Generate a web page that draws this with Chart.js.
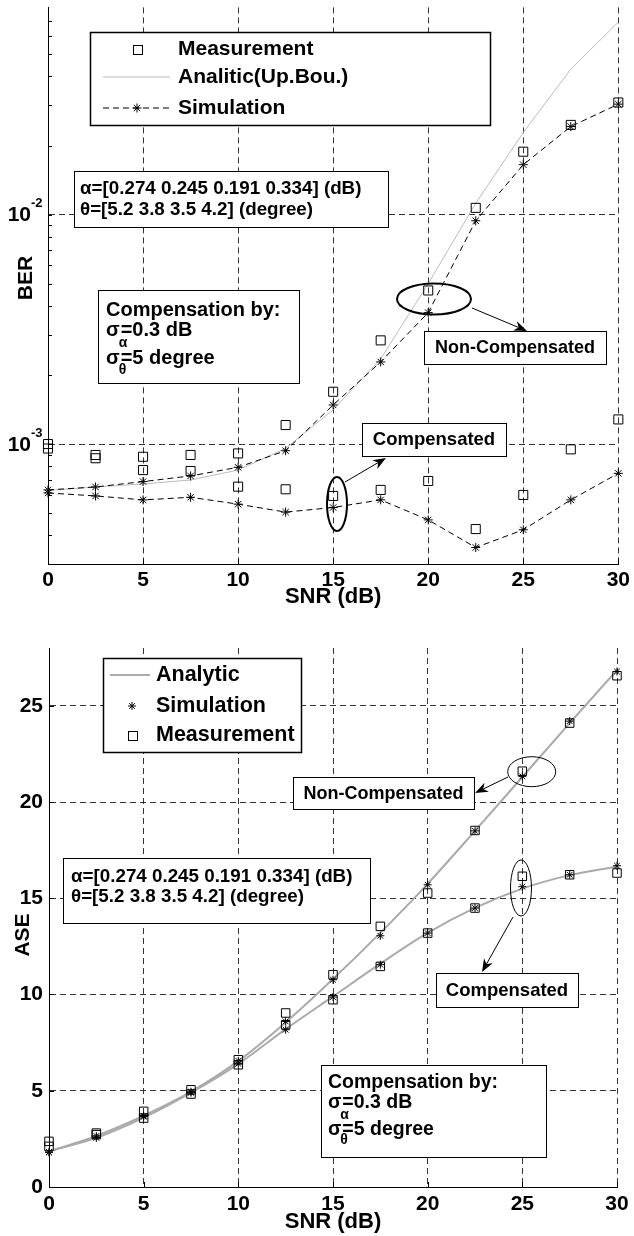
<!DOCTYPE html>
<html>
<head>
<meta charset="utf-8">
<script src="https://cdn.jsdelivr.net/npm/chart.js@4.4.0/dist/chart.umd.min.js"></script>
<style>
  body { margin: 0; background: #fff; }
  #top { position: absolute; left: 0; top: 0; }
  #bot { position: absolute; left: 0; top: 620px; }
</style>
</head>
<body>
<canvas id="top" width="634" height="620"></canvas>
<canvas id="bot" width="634" height="616"></canvas>
<script>
// SNR (dB) - same x values for both plots
const snr = [0, 2.5, 5, 7.5, 10, 12.5, 15, 17.5, 20, 22.5, 25, 27.5, 30];
const snrTicks = [0, 5, 10, 15, 20, 25, 30];

// BER plot (log scale)
const berMeasNonComp = [1.0e-3, 8.96e-4, 8.8e-4, 8.96e-4, 9.1e-4, 1.21e-3, 1.69e-3, 2.83e-3, 4.67e-3, 1.07e-2, 1.88e-2, 2.46e-2, 3.08e-2];
const berMeasComp    = [9.56e-4, 8.67e-4, 7.7e-4, 7.63e-4, 6.52e-4, 6.35e-4, 5.94e-4, 6.31e-4, 6.9e-4, 4.26e-4, 6.0e-4, 9.48e-4, 1.28e-3];
const berAnalytic    = [6.27e-4, 6.5e-4, 6.7e-4, 6.97e-4, 7.7e-4, 9.57e-4, 1.41e-3, 2.35e-3, 5.0e-3, 1.12e-2, 2.28e-2, 4.3e-2, 6.9e-2];
const berSimNonComp  = [6.31e-4, 6.5e-4, 6.86e-4, 7.26e-4, 7.92e-4, 9.35e-4, 1.48e-3, 2.28e-3, 3.74e-3, 9.4e-3, 1.65e-2, 2.42e-2, 3.03e-2];
const berSimComp     = [6.12e-4, 5.94e-4, 5.71e-4, 5.86e-4, 5.47e-4, 5.05e-4, 5.29e-4, 5.71e-4, 4.67e-4, 3.54e-4, 4.23e-4, 5.71e-4, 7.45e-4];
const berTicks = [1e-3, 1e-2];

// ASE plot (linear)
const aseAnalyticNonComp = [1.85, 2.65, 3.7, 4.95, 6.55, 8.55, 10.8, 13.2, 15.75, 18.5, 21.3, 24.1, 26.85];
const aseAnalyticComp    = [1.85, 2.55, 3.6, 4.9, 6.4, 8.2, 9.9, 11.6, 13.2, 14.5, 15.5, 16.2, 16.65];
const aseSimNonComp      = [1.8, 2.65, 3.7, 4.95, 6.55, 8.6, 10.77, 13.05, 15.7, 18.5, 21.33, 24.2, 26.78];
const aseSimComp         = [1.82, 2.55, 3.65, 4.9, 6.4, 8.17, 9.87, 11.55, 13.19, 14.49, 15.6, 16.22, 16.69];
const aseMeasNonComp     = [2.37, 2.8, 3.93, 5.05, 6.61, 9.04, 11.03, 13.54, 15.27, 18.52, 21.6, 24.1, 26.56];
const aseMeasComp        = [2.11, 2.72, 3.58, 4.83, 6.35, 8.43, 9.73, 11.46, 13.19, 14.49, 16.14, 16.22, 16.31];
const aseTicks = [0, 5, 10, 15, 20, 25];

const FONT = '"Liberation Sans", Arial, Helvetica, sans-serif';
Chart.defaults.font.family = FONT;
Chart.defaults.font.weight = 'bold';
Chart.defaults.color = '#000';

function pts(ys) {
  return snr.map((x, i) => ({ x: x, y: ys[i] }));
}

// marker styles
const squareStyle = {
  showLine: false, pointStyle: 'rect', pointBorderColor: '#000',
  pointBackgroundColor: 'rgba(0,0,0,0)', pointBorderWidth: 1, clip: false
};
const starStyle = { pointStyle: 'star', pointBorderColor: '#000', pointBorderWidth: 1, clip: false };

// small drawing helpers for the annotations
function font(ctx, size) { ctx.font = 'bold ' + size + 'px ' + FONT; }

function box(ctx, x1, y1, x2, y2, lw) {
  ctx.save();
  ctx.fillStyle = '#fff';
  ctx.fillRect(x1, y1, x2 - x1, y2 - y1);
  ctx.strokeStyle = '#000';
  ctx.lineWidth = lw || 1;
  ctx.strokeRect(x1 + 0.5, y1 + 0.5, x2 - x1, y2 - y1);
  ctx.restore();
}

function text(ctx, s, x, y, size, align) {
  font(ctx, size);
  ctx.fillStyle = '#000';
  ctx.textAlign = align || 'left';
  ctx.textBaseline = 'middle';
  ctx.fillText(s, x, y);
}

function sigmaText(ctx, sub, rest, x, y, size, subDy) {
  text(ctx, '\u03c3', x, y, size);
  const w = ctx.measureText('\u03c3').width;
  text(ctx, rest, x + w + 1, y, size);
  text(ctx, sub, x + w - 1, y + subDy, Math.round(size * 0.72));
}

function ellipse(ctx, cx, cy, rx, ry, lw) {
  ctx.save();
  ctx.strokeStyle = '#000';
  ctx.lineWidth = lw;
  ctx.beginPath();
  ctx.ellipse(cx, cy, rx, ry, 0, 0, Math.PI * 2);
  ctx.stroke();
  ctx.restore();
}

function arrow(ctx, x1, y1, x2, y2) {
  const ang = Math.atan2(y2 - y1, x2 - x1);
  const len = 13, half = 5;
  ctx.save();
  ctx.strokeStyle = '#000';
  ctx.fillStyle = '#000';
  ctx.lineWidth = 1;
  ctx.beginPath();
  ctx.moveTo(x1, y1);
  ctx.lineTo(x2 - Math.cos(ang) * len * 0.7, y2 - Math.sin(ang) * len * 0.7);
  ctx.stroke();
  ctx.beginPath();
  ctx.moveTo(x2, y2);
  ctx.lineTo(x2 - Math.cos(ang) * len - Math.sin(ang) * half, y2 - Math.sin(ang) * len + Math.cos(ang) * half);
  ctx.lineTo(x2 - Math.cos(ang) * len * 0.7, y2 - Math.sin(ang) * len * 0.7);
  ctx.lineTo(x2 - Math.cos(ang) * len + Math.sin(ang) * half, y2 - Math.sin(ang) * len - Math.cos(ang) * half);
  ctx.closePath();
  ctx.fill();
  ctx.restore();
}

function starMark(ctx, x, y, r) {
  ctx.save();
  ctx.strokeStyle = '#000';
  ctx.lineWidth = 1;
  ctx.beginPath();
  for (let k = 0; k < 4; k++) {
    const a = k * Math.PI / 4;
    ctx.moveTo(x - Math.cos(a) * r, y - Math.sin(a) * r);
    ctx.lineTo(x + Math.cos(a) * r, y + Math.sin(a) * r);
  }
  ctx.stroke();
  ctx.restore();
}

function squareMark(ctx, x, y, s) {
  ctx.save();
  ctx.strokeStyle = '#000';
  ctx.lineWidth = 1;
  ctx.strokeRect(Math.round(x - s / 2) + 0.5, Math.round(y - s / 2) + 0.5, s, s);
  ctx.restore();
}

function hLine(ctx, x1, x2, y, color, lw, dash) {
  ctx.save();
  ctx.strokeStyle = color;
  ctx.lineWidth = lw;
  ctx.setLineDash(dash || []);
  ctx.beginPath();
  ctx.moveTo(x1, y);
  ctx.lineTo(x2, y);
  ctx.stroke();
  ctx.restore();
}

function inwardTicks(ctx, chart, yValues, yLen) {
  const a = chart.chartArea, xs = chart.scales.x, ys = chart.scales.y;
  ctx.save();
  ctx.strokeStyle = '#000';
  ctx.lineWidth = 1;
  ctx.beginPath();
  snrTicks.forEach(v => {
    const px = Math.round(xs.getPixelForValue(v)) + 0.5;
    ctx.moveTo(px, a.bottom);
    ctx.lineTo(px, a.bottom - 5);
  });
  yValues.forEach(v => {
    const py = Math.round(ys.getPixelForValue(v)) + 0.5;
    ctx.moveTo(a.left, py);
    ctx.lineTo(a.left + yLen, py);
  });
  ctx.stroke();
  ctx.restore();
}

function yTitle(ctx, s, x, y) {
  ctx.save();
  ctx.translate(x, y);
  ctx.rotate(-Math.PI / 2);
  text(ctx, s, 0, 0, 21, 'center');
  ctx.restore();
}

const gridCommon = { color: '#333', lineWidth: 1, drawTicks: false };
const borderCommon = { display: true, color: '#000', width: 1, dash: [6, 4] };

// ---------- BER ----------
const berDecor = {
  id: 'berDecor',
  afterDraw(chart) {
    const ctx = chart.ctx, ys = chart.scales.y;
    // minor ticks on the log axis
    const minor = [];
    for (let d = -4; d <= -1; d++) {
      for (let m = 1; m <= 9; m++) {
        const v = m * Math.pow(10, d);
        if (v > ys.min * 1.001 && v < ys.max) minor.push(v);
      }
    }
    inwardTicks(ctx, chart, minor, 4);

    // tick labels 10^-n
    berTicks.forEach(v => {
      const py = ys.getPixelForValue(v);
      text(ctx, '10', 31, py + 1, 21, 'right');
      text(ctx, String(Math.round(Math.log10(v))), 31, py - 11, 13, 'left');
    });
    yTitle(ctx, 'BER', 26, 278);

    // legend
    box(ctx, 90, 32, 490, 125, 1.5);
    squareMark(ctx, 137, 49, 9);
    text(ctx, 'Measurement', 178, 49, 21);
    hLine(ctx, 103, 170, 77, '#bbb', 1);
    text(ctx, 'Analitic(Up.Bou.)', 178, 77, 21);
    hLine(ctx, 103, 170, 108, '#000', 1, [6, 4]);
    starMark(ctx, 137, 108, 4.5);
    text(ctx, 'Simulation', 178, 108, 21);

    // misalignment parameters
    box(ctx, 74, 171, 388, 227);
    text(ctx, '\u03b1=[0.274 0.245 0.191 0.334] (dB)', 80, 189, 18.8);
    text(ctx, '\u03b8=[5.2 3.8 3.5 4.2] (degree)', 80, 210, 18.8);

    // compensation parameters
    box(ctx, 98, 290, 299, 383);
    text(ctx, 'Compensation by:', 106, 310, 20);
    sigmaText(ctx, '\u03b1', '=0.3 dB', 106, 330, 20, 13);
    sigmaText(ctx, '\u03b8', '=5 degree', 106, 358, 20, 12);

    // call-outs
    ellipse(ctx, 434, 299, 37, 15.5, 2);
    arrow(ctx, 472, 308, 527, 331);
    box(ctx, 424, 331, 606, 364);
    text(ctx, 'Non-Compensated', 515, 348, 18, 'center');

    ellipse(ctx, 337, 504, 10, 27, 2);
    arrow(ctx, 345, 482, 386, 458);
    box(ctx, 362, 423, 506, 456);
    text(ctx, 'Compensated', 434, 440, 18.5, 'center');
  }
};

new Chart(document.getElementById('top').getContext('2d'), {
  type: 'line',
  data: {
    datasets: [
      Object.assign({ label: 'Measurement', data: pts(berMeasNonComp), pointRadius: 6.4 }, squareStyle),
      Object.assign({ label: 'Measurement (comp.)', data: pts(berMeasComp), pointRadius: 6.4 }, squareStyle),
      Object.assign({ label: 'Simulation', data: pts(berSimNonComp), borderColor: '#000', borderWidth: 1,
        borderDash: [6, 4], pointRadius: 4.5, tension: 0 }, starStyle),
      Object.assign({ label: 'Simulation (comp.)', data: pts(berSimComp), borderColor: '#000', borderWidth: 1,
        borderDash: [6, 4], pointRadius: 4.5, tension: 0 }, starStyle),
      { label: 'Analitic(Up.Bou.)', data: pts(berAnalytic), borderColor: '#bbb', borderWidth: 1,
        pointRadius: 0, tension: 0, clip: false }
    ]
  },
  options: {
    responsive: false,
    animation: false,
    events: [],
    layout: { padding: { top: 6, right: 14, left: 0, bottom: 0 } },
    plugins: { legend: { display: false }, tooltip: { enabled: false } },
    scales: {
      x: {
        type: 'linear', min: 0, max: 30,
        afterBuildTicks: s => { s.ticks = snrTicks.map(v => ({ value: v })); },
        afterFit: s => { s.height = 56; },
        ticks: { font: { size: 21, weight: 'bold' }, padding: 4, maxRotation: 0 },
        grid: gridCommon, border: borderCommon,
        title: { display: true, text: 'SNR (dB)', font: { size: 22, weight: 'bold' }, padding: { top: 0, bottom: 10 } }
      },
      y: {
        type: 'logarithmic', min: 3e-4, max: 0.08,
        afterBuildTicks: s => { s.ticks = berTicks.map(v => ({ value: v })); },
        afterFit: s => { s.width = 48; },
        ticks: { display: false },
        grid: gridCommon, border: borderCommon
      }
    }
  },
  plugins: [berDecor]
});

// ---------- ASE ----------
const aseDecor = {
  id: 'aseDecor',
  afterDraw(chart) {
    const ctx = chart.ctx;
    inwardTicks(ctx, chart, aseTicks, 5);
    yTitle(ctx, 'ASE', 23, 315);

    // legend
    box(ctx, 103, 38, 301, 132, 1.5);
    hLine(ctx, 110, 150, 55, '#aaa', 2);
    text(ctx, 'Analytic', 156, 55, 21.5);
    starMark(ctx, 132, 86, 4);
    text(ctx, 'Simulation', 156, 86, 21.5);
    squareMark(ctx, 132, 115, 9);
    text(ctx, 'Measurement', 156, 115, 21.5);

    // call-outs
    ellipse(ctx, 531.7, 151.7, 24, 15, 1);
    arrow(ctx, 508, 157, 475, 173);
    box(ctx, 293, 157, 474, 189);
    text(ctx, 'Non-Compensated', 383.5, 174, 18, 'center');

    box(ctx, 63, 238, 370, 303);
    text(ctx, '\u03b1=[0.274 0.245 0.191 0.334] (dB)', 71, 257, 18.8);
    text(ctx, '\u03b8=[5.2 3.8 3.5 4.2] (degree)', 71, 277, 18.8);

    ellipse(ctx, 521, 268, 10.5, 28, 1);
    arrow(ctx, 513, 297, 482, 352);
    box(ctx, 436, 353, 578, 387);
    text(ctx, 'Compensated', 507, 371, 18.5, 'center');

    box(ctx, 321, 445, 546, 537);
    text(ctx, 'Compensation by:', 328, 463, 19.5);
    sigmaText(ctx, '\u03b1', '=0.3 dB', 328, 483, 19.5, 12);
    sigmaText(ctx, '\u03b8', '=5 degree', 328, 510, 19.5, 10);
  }
};

new Chart(document.getElementById('bot').getContext('2d'), {
  type: 'line',
  data: {
    datasets: [
      Object.assign({ label: 'Measurement', data: pts(aseMeasNonComp), pointRadius: 6 }, squareStyle),
      Object.assign({ label: 'Measurement (comp.)', data: pts(aseMeasComp), pointRadius: 6 }, squareStyle),
      Object.assign({ label: 'Simulation', data: pts(aseSimNonComp), showLine: false, pointRadius: 4 }, starStyle),
      Object.assign({ label: 'Simulation (comp.)', data: pts(aseSimComp), showLine: false, pointRadius: 4 }, starStyle),
      { label: 'Analytic', data: pts(aseAnalyticNonComp), borderColor: '#aaa', borderWidth: 2,
        pointRadius: 0, cubicInterpolationMode: 'monotone', clip: false },
      { label: 'Analytic (comp.)', data: pts(aseAnalyticComp), borderColor: '#aaa', borderWidth: 2,
        pointRadius: 0, cubicInterpolationMode: 'monotone', clip: false }
    ]
  },
  options: {
    responsive: false,
    animation: false,
    events: [],
    layout: { padding: { top: 28, right: 17, left: 0, bottom: 0 } },
    plugins: { legend: { display: false }, tooltip: { enabled: false } },
    scales: {
      x: {
        type: 'linear', min: 0, max: 30,
        afterBuildTicks: s => { s.ticks = snrTicks.map(v => ({ value: v })); },
        afterFit: s => { s.height = 49; },
        ticks: { font: { size: 21, weight: 'bold' }, padding: 5, maxRotation: 0 },
        grid: gridCommon, border: borderCommon,
        title: { display: true, text: 'SNR (dB)', font: { size: 22, weight: 'bold' }, padding: { top: 0, bottom: 1 } }
      },
      y: {
        type: 'linear', min: 0, max: 28,
        afterBuildTicks: s => { s.ticks = aseTicks.map(v => ({ value: v })); },
        afterFit: s => { s.width = 49; },
        ticks: { font: { size: 21, weight: 'bold' }, padding: 6 },
        grid: gridCommon, border: borderCommon
      }
    }
  },
  plugins: [aseDecor]
});
</script>
</body>
</html>
